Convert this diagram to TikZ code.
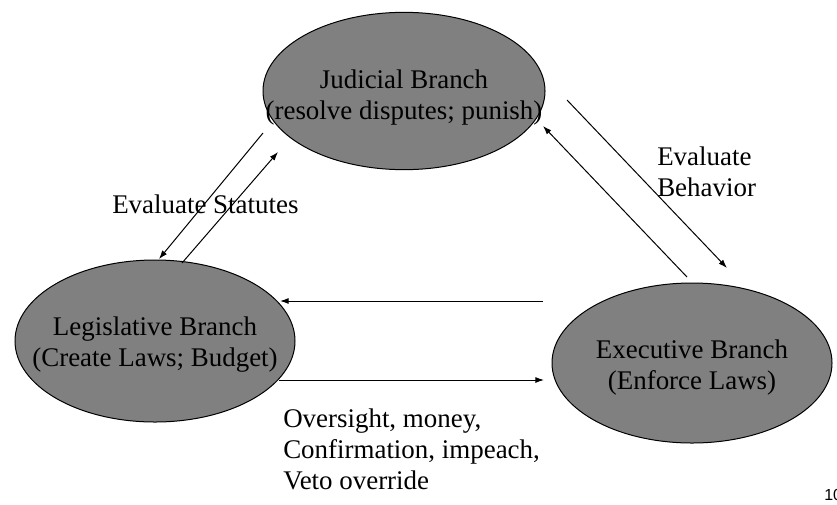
\documentclass[tikz,border=0pt]{standalone}
\usepackage{fontspec}
\setmainfont{Liberation Serif}
\newfontfamily\pagenumfont{Liberation Sans}
\usetikzlibrary{shapes.geometric,arrows.meta}
\definecolor{branchgray}{RGB}{128,128,128}
\tikzset{
  branch/.style={ellipse, draw=black, line width=0.75pt, fill=branchgray,
    inner sep=0pt},
  branchtext/.style={inner sep=0pt, align=center, font=\fontsize{20.2}{23.25}\selectfont},
  conn/.style={line width=0.75pt, -{Latex[length=6.5pt,width=4.5pt]}},
  lbl/.style={inner sep=0pt, font=\fontsize{20.2}{23.25}\selectfont}
}
\begin{document}
\begin{tikzpicture}[x=0.75pt,y=-0.75pt]
\useasboundingbox (0,0) rectangle (837,504);
\node[branch, minimum width=211.5pt, minimum height=118pt,
  label={[branchtext, yshift=-5pt]center:Judicial Branch\\(resolve disputes; punish)}] (jud) at (404,91) {};
\node[branch, minimum width=210pt, minimum height=121.5pt,
  label={[branchtext, yshift=-2.5pt]center:Legislative Branch\\(Create Laws; Budget)}] (leg) at (155,341) {};
\node[branch, minimum width=210pt, minimum height=120pt,
  label={[branchtext, yshift=-3.5pt]center:Executive Branch\\(Enforce Laws)}] (exe) at (692,363) {};

\coordinate (a1s) at (263,133); \coordinate (a1e) at (159,259);
\coordinate (a2s) at (182,263); \coordinate (a2e) at (278,152);
\coordinate (a3s) at (567,100); \coordinate (a3e) at (727,268);
\coordinate (a4s) at (687,277); \coordinate (a4e) at (543,126);
\coordinate (a5s) at (543,301); \coordinate (a5e) at (280,301);
\coordinate (a6s) at (279,380); \coordinate (a6e) at (544,380);

\draw[conn] (a1s) -- (a1e);
\draw[conn] (a2s) -- (a2e);
\draw[conn] (a3s) -- (a3e);
\draw[conn] (a4s) -- (a4e);
\draw[conn] (a5s) -- (a5e);
\draw[conn] (a6s) -- (a6e);

\node[lbl, anchor=base west] (evs) at (112,213) {Evaluate Statutes};
\node[lbl, anchor=base west, align=left] (evb) at (657,196) {Evaluate\\Behavior};
\node[lbl, anchor=base west, align=left] (ovs) at (283,489)
  {Oversight, money,\\Confirmation, impeach,\\Veto override};
\node[inner sep=0pt, anchor=base west, font=\pagenumfont\fontsize{12}{14}\selectfont] (pg) at (824,500) {10};
\end{tikzpicture}
\end{document}
